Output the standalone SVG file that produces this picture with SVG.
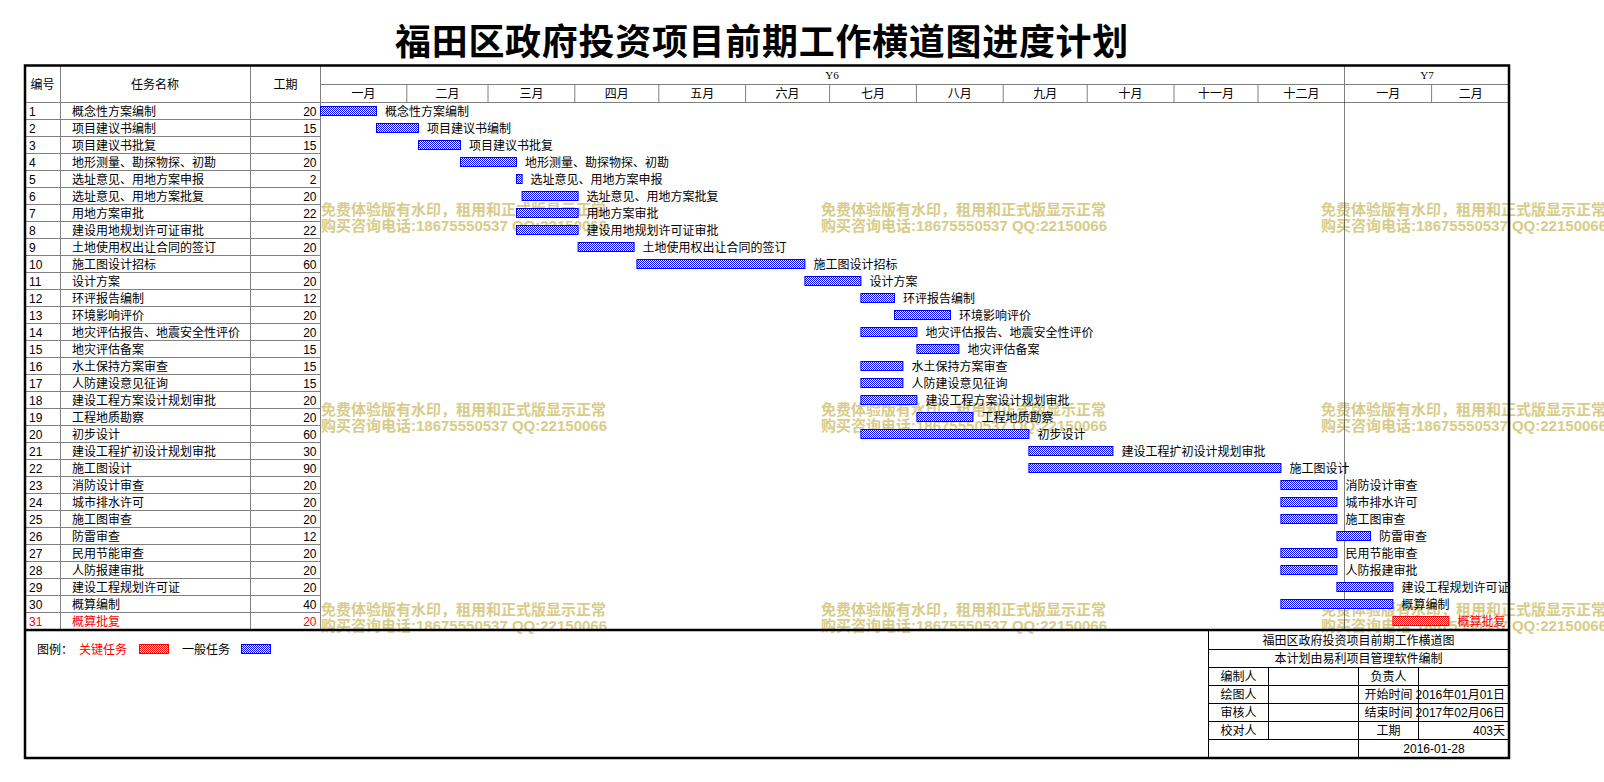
<svg xmlns="http://www.w3.org/2000/svg" width="1604" height="782" viewBox="0 0 1604 782">
<style>
.t{font-family:"Liberation Sans","Noto Sans CJK SC",sans-serif;font-size:12px;fill:#000}
.r{fill:#ff0000}
.c{text-anchor:middle}
.e{text-anchor:end}
.y{font-family:"Liberation Serif","Noto Sans CJK SC",serif;font-size:11px;text-anchor:middle}
.g{stroke:#808080;stroke-width:1;fill:none}
.k{stroke:#000;stroke-width:1;fill:none}
.b{fill:url(#pb);stroke:#0000ff;stroke-width:1}
.rb{fill:url(#pr);stroke:#ff0000;stroke-width:1}
.wm{font-family:"Liberation Sans","Noto Sans CJK SC",sans-serif;font-size:15px;font-weight:bold;fill:#d8cc88}
.ti{font-family:"Noto Sans CJK SC",sans-serif;font-size:36px;font-weight:bold;text-anchor:middle;letter-spacing:0.7px}
</style>
<defs>
<pattern id="pb" width="2" height="2" patternUnits="userSpaceOnUse">
<rect width="2" height="2" fill="#ffffff"/><rect width="1" height="1" fill="#0000ff"/><rect x="1" y="1" width="1" height="1" fill="#0000ff"/>
</pattern>
<pattern id="pr" width="2" height="2" patternUnits="userSpaceOnUse">
<rect width="2" height="2" fill="#ffffff"/><rect width="1" height="1" fill="#ff0000"/><rect x="1" y="1" width="1" height="1" fill="#ff0000"/>
</pattern>
<clipPath id="cc"><rect x="320" y="100" width="1188" height="530"/></clipPath>
</defs>
<rect width="1604" height="782" fill="#ffffff"/>
<text class="ti" x="762" y="55">福田区政府投资项目前期工作横道图进度计划</text>

<g id="watermarks">
<text class="wm" x="321" y="214.5">免费体验版有水印，租用和正式版显示正常</text>
<text class="wm" x="321" y="230.5">购买咨询电话:18675550537 QQ:22150066</text>
<text class="wm" x="821" y="214.5">免费体验版有水印，租用和正式版显示正常</text>
<text class="wm" x="821" y="230.5">购买咨询电话:18675550537 QQ:22150066</text>
<text class="wm" x="1321" y="214.5">免费体验版有水印，租用和正式版显示正常</text>
<text class="wm" x="1321" y="230.5">购买咨询电话:18675550537 QQ:22150066</text>
<text class="wm" x="321" y="414.5">免费体验版有水印，租用和正式版显示正常</text>
<text class="wm" x="321" y="430.5">购买咨询电话:18675550537 QQ:22150066</text>
<text class="wm" x="821" y="414.5">免费体验版有水印，租用和正式版显示正常</text>
<text class="wm" x="821" y="430.5">购买咨询电话:18675550537 QQ:22150066</text>
<text class="wm" x="1321" y="414.5">免费体验版有水印，租用和正式版显示正常</text>
<text class="wm" x="1321" y="430.5">购买咨询电话:18675550537 QQ:22150066</text>
<text class="wm" x="321" y="614.5">免费体验版有水印，租用和正式版显示正常</text>
<text class="wm" x="321" y="630.5">购买咨询电话:18675550537 QQ:22150066</text>
<text class="wm" x="821" y="614.5">免费体验版有水印，租用和正式版显示正常</text>
<text class="wm" x="821" y="630.5">购买咨询电话:18675550537 QQ:22150066</text>
<text class="wm" x="1321" y="614.5">免费体验版有水印，租用和正式版显示正常</text>
<text class="wm" x="1321" y="630.5">购买咨询电话:18675550537 QQ:22150066</text>
</g>

<g id="grid">
<path class="g" d="M25 102.5H1509M320 84.5H1509M60.5 65.5V630M250.5 65.5V630M320.5 65.5V630M1344.5 65.5V102.5
M406.8 84.5V102.5M488 84.5V102.5M574.8 84.5V102.5M658.8 84.5V102.5M745.6 84.5V102.5M829.6 84.5V102.5M916.4 84.5V102.5M1003.2 84.5V102.5M1087.2 84.5V102.5M1174 84.5V102.5M1258 84.5V102.5M1431.6 84.5V102.5
M25 119.5H320M25 136.5H320M25 153.5H320M25 170.5H320M25 187.5H320M25 204.5H320M25 221.5H320M25 238.5H320M25 255.5H320M25 272.5H320
M25 289.5H320M25 306.5H320M25 323.5H320M25 340.5H320M25 357.5H320M25 374.5H320M25 391.5H320M25 408.5H320M25 425.5H320M25 442.5H320
M25 459.5H320M25 476.5H320M25 493.5H320M25 510.5H320M25 527.5H320M25 544.5H320M25 561.5H320M25 578.5H320M25 595.5H320M25 612.5H320"/>
<path d="M1344.5 102.5V629" stroke="#000" stroke-width="1" stroke-dasharray="1 1" fill="none"/>
</g>

<g id="header">
<text class="t c" x="42.5" y="88.5">编号</text>
<text class="t c" x="155" y="88.5">任务名称</text>
<text class="t c" x="285.5" y="88.5">工期</text>
<text class="y" x="832" y="79">Y6</text>
<text class="y" x="1427" y="79">Y7</text>
<text class="t c" x="363.4" y="98">一月</text>
<text class="t c" x="447.4" y="98">二月</text>
<text class="t c" x="531.4" y="98">三月</text>
<text class="t c" x="616.8" y="98">四月</text>
<text class="t c" x="702.2" y="98">五月</text>
<text class="t c" x="787.6" y="98">六月</text>
<text class="t c" x="873" y="98">七月</text>
<text class="t c" x="959.8" y="98">八月</text>
<text class="t c" x="1045.2" y="98">九月</text>
<text class="t c" x="1130.6" y="98">十月</text>
<text class="t c" x="1216" y="98">十一月</text>
<text class="t c" x="1301.4" y="98">十二月</text>
<text class="t c" x="1388.2" y="98">一月</text>
<text class="t c" x="1470.8" y="98">二月</text>
</g>

<g id="table">
<text class="t" x="29" y="115.5">1</text><text class="t" x="72" y="115.5">概念性方案编制</text><text class="t e" x="316.5" y="115.5">20</text>
<text class="t" x="29" y="132.5">2</text><text class="t" x="72" y="132.5">项目建议书编制</text><text class="t e" x="316.5" y="132.5">15</text>
<text class="t" x="29" y="149.5">3</text><text class="t" x="72" y="149.5">项目建议书批复</text><text class="t e" x="316.5" y="149.5">15</text>
<text class="t" x="29" y="166.5">4</text><text class="t" x="72" y="166.5">地形测量、勘探物探、初勘</text><text class="t e" x="316.5" y="166.5">20</text>
<text class="t" x="29" y="183.5">5</text><text class="t" x="72" y="183.5">选址意见、用地方案申报</text><text class="t e" x="316.5" y="183.5">2</text>
<text class="t" x="29" y="200.5">6</text><text class="t" x="72" y="200.5">选址意见、用地方案批复</text><text class="t e" x="316.5" y="200.5">20</text>
<text class="t" x="29" y="217.5">7</text><text class="t" x="72" y="217.5">用地方案审批</text><text class="t e" x="316.5" y="217.5">22</text>
<text class="t" x="29" y="234.5">8</text><text class="t" x="72" y="234.5">建设用地规划许可证审批</text><text class="t e" x="316.5" y="234.5">22</text>
<text class="t" x="29" y="251.5">9</text><text class="t" x="72" y="251.5">土地使用权出让合同的签订</text><text class="t e" x="316.5" y="251.5">20</text>
<text class="t" x="29" y="268.5">10</text><text class="t" x="72" y="268.5">施工图设计招标</text><text class="t e" x="316.5" y="268.5">60</text>
<text class="t" x="29" y="285.5">11</text><text class="t" x="72" y="285.5">设计方案</text><text class="t e" x="316.5" y="285.5">20</text>
<text class="t" x="29" y="302.5">12</text><text class="t" x="72" y="302.5">环评报告编制</text><text class="t e" x="316.5" y="302.5">12</text>
<text class="t" x="29" y="319.5">13</text><text class="t" x="72" y="319.5">环境影响评价</text><text class="t e" x="316.5" y="319.5">20</text>
<text class="t" x="29" y="336.5">14</text><text class="t" x="72" y="336.5">地灾评估报告、地震安全性评价</text><text class="t e" x="316.5" y="336.5">20</text>
<text class="t" x="29" y="353.5">15</text><text class="t" x="72" y="353.5">地灾评估备案</text><text class="t e" x="316.5" y="353.5">15</text>
<text class="t" x="29" y="370.5">16</text><text class="t" x="72" y="370.5">水土保持方案审查</text><text class="t e" x="316.5" y="370.5">15</text>
<text class="t" x="29" y="387.5">17</text><text class="t" x="72" y="387.5">人防建设意见征询</text><text class="t e" x="316.5" y="387.5">15</text>
<text class="t" x="29" y="404.5">18</text><text class="t" x="72" y="404.5">建设工程方案设计规划审批</text><text class="t e" x="316.5" y="404.5">20</text>
<text class="t" x="29" y="421.5">19</text><text class="t" x="72" y="421.5">工程地质勘察</text><text class="t e" x="316.5" y="421.5">20</text>
<text class="t" x="29" y="438.5">20</text><text class="t" x="72" y="438.5">初步设计</text><text class="t e" x="316.5" y="438.5">60</text>
<text class="t" x="29" y="455.5">21</text><text class="t" x="72" y="455.5">建设工程扩初设计规划审批</text><text class="t e" x="316.5" y="455.5">30</text>
<text class="t" x="29" y="472.5">22</text><text class="t" x="72" y="472.5">施工图设计</text><text class="t e" x="316.5" y="472.5">90</text>
<text class="t" x="29" y="489.5">23</text><text class="t" x="72" y="489.5">消防设计审查</text><text class="t e" x="316.5" y="489.5">20</text>
<text class="t" x="29" y="506.5">24</text><text class="t" x="72" y="506.5">城市排水许可</text><text class="t e" x="316.5" y="506.5">20</text>
<text class="t" x="29" y="523.5">25</text><text class="t" x="72" y="523.5">施工图审查</text><text class="t e" x="316.5" y="523.5">20</text>
<text class="t" x="29" y="540.5">26</text><text class="t" x="72" y="540.5">防雷审查</text><text class="t e" x="316.5" y="540.5">12</text>
<text class="t" x="29" y="557.5">27</text><text class="t" x="72" y="557.5">民用节能审查</text><text class="t e" x="316.5" y="557.5">20</text>
<text class="t" x="29" y="574.5">28</text><text class="t" x="72" y="574.5">人防报建审批</text><text class="t e" x="316.5" y="574.5">20</text>
<text class="t" x="29" y="591.5">29</text><text class="t" x="72" y="591.5">建设工程规划许可证</text><text class="t e" x="316.5" y="591.5">20</text>
<text class="t" x="29" y="608.5">30</text><text class="t" x="72" y="608.5">概算编制</text><text class="t e" x="316.5" y="608.5">40</text>
<text class="t r" x="29" y="625.5">31</text><text class="t r" x="72" y="625.5">概算批复</text><text class="t r e" x="316.5" y="625.5">20</text>
</g>

<g id="bars">
<rect class="b" x="320.5" y="106.5" width="56" height="9"/>
<rect class="b" x="376.5" y="123.5" width="42" height="9"/>
<rect class="b" x="418.5" y="140.5" width="42" height="9"/>
<rect class="b" x="460.5" y="157.5" width="56" height="9"/>
<rect class="b" x="516.5" y="174.5" width="5.6" height="9"/>
<rect class="b" x="522.1" y="191.5" width="56" height="9"/>
<rect class="b" x="516.5" y="208.5" width="61.6" height="9"/>
<rect class="b" x="516.5" y="225.5" width="61.6" height="9"/>
<rect class="b" x="578.1" y="242.5" width="56" height="9"/>
<rect class="b" x="636.9" y="259.5" width="168" height="9"/>
<rect class="b" x="804.9" y="276.5" width="56" height="9"/>
<rect class="b" x="860.9" y="293.5" width="33.6" height="9"/>
<rect class="b" x="894.5" y="310.5" width="56" height="9"/>
<rect class="b" x="860.9" y="327.5" width="56" height="9"/>
<rect class="b" x="916.9" y="344.5" width="42" height="9"/>
<rect class="b" x="860.9" y="361.5" width="42" height="9"/>
<rect class="b" x="860.9" y="378.5" width="42" height="9"/>
<rect class="b" x="860.9" y="395.5" width="56" height="9"/>
<rect class="b" x="916.9" y="412.5" width="56" height="9"/>
<rect class="b" x="860.9" y="429.5" width="168" height="9"/>
<rect class="b" x="1028.9" y="446.5" width="84" height="9"/>
<rect class="b" x="1028.9" y="463.5" width="252" height="9"/>
<rect class="b" x="1280.9" y="480.5" width="56" height="9"/>
<rect class="b" x="1280.9" y="497.5" width="56" height="9"/>
<rect class="b" x="1280.9" y="514.5" width="56" height="9"/>
<rect class="b" x="1336.9" y="531.5" width="33.6" height="9"/>
<rect class="b" x="1280.9" y="548.5" width="56" height="9"/>
<rect class="b" x="1280.9" y="565.5" width="56" height="9"/>
<rect class="b" x="1336.9" y="582.5" width="56" height="9"/>
<rect class="b" x="1280.9" y="599.5" width="112" height="9"/>
<rect class="rb" x="1392.9" y="616.5" width="56" height="9"/>
</g>

<g id="bar-labels" clip-path="url(#cc)">
<text class="t" x="385" y="115.5">概念性方案编制</text>
<text class="t" x="427" y="132.5">项目建议书编制</text>
<text class="t" x="469" y="149.5">项目建议书批复</text>
<text class="t" x="525" y="166.5">地形测量、勘探物探、初勘</text>
<text class="t" x="530.6" y="183.5">选址意见、用地方案申报</text>
<text class="t" x="586.6" y="200.5">选址意见、用地方案批复</text>
<text class="t" x="586.6" y="217.5">用地方案审批</text>
<text class="t" x="586.6" y="234.5">建设用地规划许可证审批</text>
<text class="t" x="642.6" y="251.5">土地使用权出让合同的签订</text>
<text class="t" x="813.4" y="268.5">施工图设计招标</text>
<text class="t" x="869.4" y="285.5">设计方案</text>
<text class="t" x="903" y="302.5">环评报告编制</text>
<text class="t" x="959" y="319.5">环境影响评价</text>
<text class="t" x="925.4" y="336.5">地灾评估报告、地震安全性评价</text>
<text class="t" x="967.4" y="353.5">地灾评估备案</text>
<text class="t" x="911.4" y="370.5">水土保持方案审查</text>
<text class="t" x="911.4" y="387.5">人防建设意见征询</text>
<text class="t" x="925.4" y="404.5">建设工程方案设计规划审批</text>
<text class="t" x="981.4" y="421.5">工程地质勘察</text>
<text class="t" x="1037.4" y="438.5">初步设计</text>
<text class="t" x="1121.4" y="455.5">建设工程扩初设计规划审批</text>
<text class="t" x="1289.4" y="472.5">施工图设计</text>
<text class="t" x="1345.4" y="489.5">消防设计审查</text>
<text class="t" x="1345.4" y="506.5">城市排水许可</text>
<text class="t" x="1345.4" y="523.5">施工图审查</text>
<text class="t" x="1379" y="540.5">防雷审查</text>
<text class="t" x="1345.4" y="557.5">民用节能审查</text>
<text class="t" x="1345.4" y="574.5">人防报建审批</text>
<text class="t" x="1401.4" y="591.5">建设工程规划许可证</text>
<text class="t" x="1401.4" y="608.5">概算编制</text>
<text class="t r" x="1457.4" y="625.5">概算批复</text>
</g>

<g id="legend">
<text class="t" x="37" y="653.5">图例：</text>
<text class="t r" x="79" y="653.5">关键任务</text>
<rect class="rb" x="139.5" y="644.5" width="29" height="9"/>
<text class="t" x="182" y="653.5">一般任务</text>
<rect class="b" x="241.5" y="644.5" width="29" height="9"/>
</g>

<g id="title-block">
<path class="k" d="M1208.5 630V758M1208.5 649.5H1509M1208.5 667.5H1509M1208.5 685.5H1509M1208.5 703.5H1509M1208.5 721.5H1509M1208.5 739.5H1509M1268.5 667.5V739.5M1358.5 667.5V758M1418.5 667.5V739.5"/>
<text class="t c" x="1358.5" y="644.5">福田区政府投资项目前期工作横道图</text>
<text class="t c" x="1358.5" y="663">本计划由易利项目管理软件编制</text>
<text class="t c" x="1238.5" y="681">编制人</text>
<text class="t c" x="1238.5" y="699">绘图人</text>
<text class="t c" x="1238.5" y="717">审核人</text>
<text class="t c" x="1238.5" y="735">校对人</text>
<text class="t c" x="1388.5" y="681">负责人</text>
<text class="t c" x="1388.5" y="699">开始时间</text>
<text class="t c" x="1388.5" y="717">结束时间</text>
<text class="t c" x="1388.5" y="735">工期</text>
<text class="t e" x="1505" y="699">2016年01月01日</text>
<text class="t e" x="1505" y="717">2017年02月06日</text>
<text class="t e" x="1505" y="735">403天</text>
<text class="t c" x="1434" y="753">2016-01-28</text>
</g>

<g id="frame">
<rect x="25" y="65.5" width="1484" height="692.5" fill="none" stroke="#000" stroke-width="2.5"/>
<path d="M25 630H1509" stroke="#000" stroke-width="2.5" fill="none"/>
</g>
</svg>
